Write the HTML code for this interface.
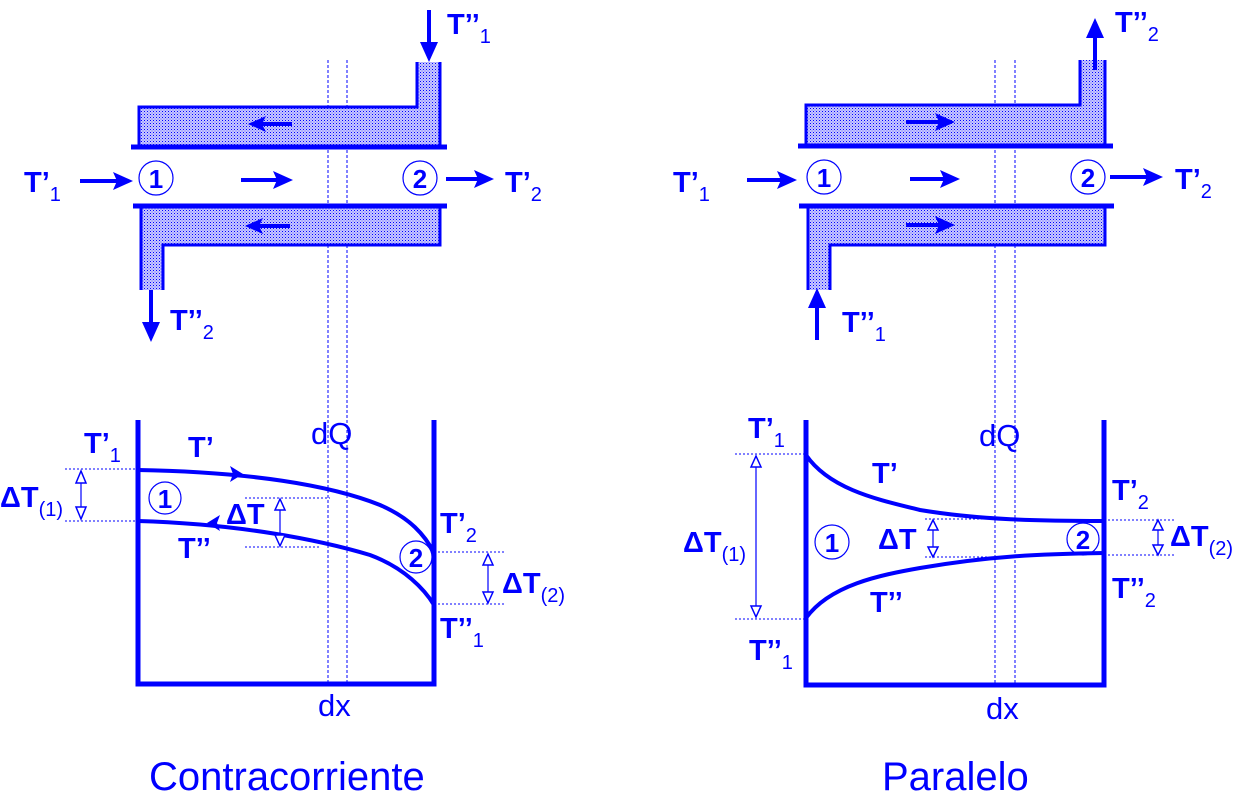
<!DOCTYPE html>
<html><head><meta charset="utf-8"><style>
html,body{margin:0;padding:0;background:#fff;}
svg{display:block;}
text{font-family:"Liberation Sans",Arial,sans-serif;fill:#0000ff;}
.b{font-weight:bold;font-size:29px;}
.s{font-weight:normal;font-size:20px;}
.n{font-weight:bold;font-size:26px;}
</style></head><body>
<svg width="1245" height="805" viewBox="0 0 1245 805" xmlns="http://www.w3.org/2000/svg">
<defs>
<pattern id="dots" width="3" height="3" patternUnits="userSpaceOnUse">
<rect width="3" height="3" fill="#c8c8ff"/><rect width="1" height="1" fill="#0000ff"/><rect x="1.5" y="1.5" width="1" height="1" fill="#6060ff"/>
</pattern>
</defs>
<g stroke="#0000ff" fill="none">
<g stroke-width="1" stroke-dasharray="3,2">
<line x1="328" y1="60" x2="328" y2="685"/><line x1="347" y1="60" x2="347" y2="685"/>
<line x1="995" y1="60" x2="995" y2="685"/><line x1="1015" y1="60" x2="1015" y2="685"/>
</g>
<!-- LEFT exchanger -->
<path d="M139,145 V107 H417 V62 H440 V145 Z" fill="url(#dots)" stroke="none"/>
<path d="M139,145 V107 H417 V62 M440,62 V145" stroke-width="3"/>
<line x1="131" y1="147" x2="447" y2="147" stroke-width="5"/>
<path d="M141,206 H440 V245 H163 V290 H141 Z" fill="url(#dots)" stroke="none"/>
<path d="M141,290 V206 M440,206 V245 H163 V290" stroke-width="3"/>
<line x1="133" y1="206" x2="447" y2="206" stroke-width="5"/>
<!-- RIGHT exchanger -->
<path d="M806,145 V105 H1080 V60 H1105 V145 Z" fill="url(#dots)" stroke="none"/>
<path d="M806,145 V105 H1080 V60 M1105,60 V145" stroke-width="3"/>
<line x1="798" y1="146" x2="1113" y2="146" stroke-width="5"/>
<path d="M808,206 H1105 V245 H830 V290 H808 Z" fill="url(#dots)" stroke="none"/>
<path d="M808,290 V206 M1105,206 V245 H830 V290" stroke-width="3"/>
<line x1="799" y1="206" x2="1114" y2="206" stroke-width="5"/>
<g stroke-width="4">
<line x1="429" y1="10" x2="429" y2="48"/>
<line x1="292" y1="124" x2="258" y2="124"/>
<line x1="80" y1="181" x2="120" y2="181"/>
<line x1="241" y1="180" x2="278" y2="180"/>
<line x1="446" y1="179" x2="480" y2="179"/>
<line x1="290" y1="226" x2="255" y2="226"/>
<line x1="151" y1="290" x2="151" y2="328"/>
<line x1="1095" y1="70" x2="1095" y2="30"/>
<line x1="906" y1="122" x2="940" y2="122"/>
<line x1="747" y1="180" x2="782" y2="180"/>
<line x1="910" y1="179" x2="945" y2="179"/>
<line x1="1110" y1="177" x2="1148" y2="177"/>
<line x1="906" y1="225" x2="940" y2="225"/>
<line x1="817" y1="340" x2="817" y2="302"/>
</g>
<path d="M138,420 V684 H434 V420" stroke-width="5"/>
<path d="M806,420 V685 H1104 V420" stroke-width="5"/>
<path d="M138,470 C250,472 330,485 380,505 C410,518 425,535 434,553" stroke-width="4"/>
<path d="M138,521 C240,524 320,540 370,555 C405,568 425,590 434,605" stroke-width="4"/>
<path d="M806,455 C830,490 880,500 920,510 C980,520 1040,521 1104,521" stroke-width="4"/>
<path d="M806,618 C830,585 880,575 920,568 C990,556 1040,554 1104,553" stroke-width="4"/>
<g stroke-width="1" stroke-dasharray="2,2">
<line x1="65" y1="469" x2="138" y2="469"/><line x1="65" y1="521" x2="138" y2="521"/>
<line x1="245" y1="498" x2="330" y2="498"/><line x1="245" y1="547" x2="320" y2="547"/>
<line x1="434" y1="552" x2="505" y2="552"/><line x1="434" y1="604" x2="505" y2="604"/>
<line x1="735" y1="454" x2="806" y2="454"/><line x1="735" y1="619" x2="806" y2="619"/>
<line x1="925" y1="519" x2="1000" y2="519"/><line x1="925" y1="557" x2="1000" y2="557"/>
<line x1="1104" y1="520" x2="1175" y2="520"/><line x1="1104" y1="555" x2="1175" y2="555"/>
</g>
<g stroke-width="1.2">
<line x1="81" y1="472" x2="81" y2="518"/>
<line x1="280" y1="500" x2="280" y2="545"/>
<line x1="488" y1="555" x2="488" y2="602"/>
<line x1="756" y1="457" x2="756" y2="616"/>
<line x1="933" y1="522" x2="933" y2="555"/>
<line x1="1158" y1="522" x2="1158" y2="553"/>
</g>
<g stroke-width="1.5" fill="#fff">
<polygon points="81,471 76,483 86,483"/><polygon points="81,519 76,507 86,507"/>
<polygon points="280,499 275,510 285,510"/><polygon points="280,546 275,535 285,535"/>
<polygon points="488,554 483,565 493,565"/><polygon points="488,603 483,592 493,592"/>
<polygon points="756,456 751,467 761,467"/><polygon points="756,617 751,606 761,606"/>
<polygon points="933,520 928,530 938,530"/><polygon points="933,557 928,547 938,547"/>
<polygon points="1158,520 1153,530 1163,530"/><polygon points="1158,555 1153,545 1163,545"/>
</g>
<g stroke-width="1.2">
<circle cx="156" cy="178" r="17"/><circle cx="420" cy="178" r="17"/>
<circle cx="824" cy="177" r="17"/><circle cx="1088" cy="177" r="17"/>
<circle cx="165" cy="498" r="16"/><circle cx="416" cy="557" r="16"/>
<circle cx="832" cy="542" r="17"/><circle cx="1083" cy="539" r="16"/>
</g>
</g>
<g fill="#0000ff">
<polygon points="429,62 420,42 438,42"/>
<polygon points="248,124 266,116 262,124 266,132"/>
<polygon points="133,181 113,172 117,181 113,190"/>
<polygon points="293,180 273,171 277,180 273,189"/>
<polygon points="494,179 474,170 478,179 474,188"/>
<polygon points="245,226 263,218 259,226 263,234"/>
<polygon points="151,342 142,322 160,322"/>
<polygon points="1095,18 1086,38 1104,38"/>
<polygon points="955,122 935,113 939,122 935,131"/>
<polygon points="797,180 777,171 781,180 777,189"/>
<polygon points="960,179 940,170 944,179 940,188"/>
<polygon points="1163,177 1143,168 1147,177 1143,186"/>
<polygon points="955,225 935,216 939,225 935,234"/>
<polygon points="817,288 808,308 826,308"/>
<polygon points="243,474 230,466 233,474 230,482"/>
<polygon points="207,523 220,515 217,523 220,531"/>
</g>
<text x="447" y="34" class="b">T’’<tspan class="s" dy="9">1</tspan></text>
<text x="24" y="192" class="b">T’<tspan class="s" dy="9">1</tspan></text>
<text x="505" y="192" class="b">T’<tspan class="s" dy="9">2</tspan></text>
<text x="170" y="330" class="b">T’’<tspan class="s" dy="9">2</tspan></text>
<text x="1115" y="32" class="b">T’’<tspan class="s" dy="9">2</tspan></text>
<text x="673" y="192" class="b">T’<tspan class="s" dy="9">1</tspan></text>
<text x="1175" y="189" class="b">T’<tspan class="s" dy="9">2</tspan></text>
<text x="842" y="332" class="b">T’’<tspan class="s" dy="9">1</tspan></text>
<g text-anchor="middle">
<text x="156" y="188" class="n">1</text>
<text x="420" y="188" class="n">2</text>
<text x="824" y="187" class="n">1</text>
<text x="1088" y="187" class="n">2</text>
<text x="165" y="508" class="n">1</text>
<text x="416" y="567" class="n">2</text>
<text x="832" y="552" class="n">1</text>
<text x="1083" y="549" class="n">2</text>
</g>
<text x="84" y="453" class="b">T’<tspan class="s" dy="9">1</tspan></text>
<text x="188" y="457" class="b">T’</text>
<text x="0" y="507" class="b">ΔT<tspan class="s" dy="9">(1)</tspan></text>
<text x="226" y="524" class="b">ΔT</text>
<text x="178" y="558" class="b">T’’</text>
<text x="440" y="533" class="b">T’<tspan class="s" dy="9">2</tspan></text>
<text x="502" y="593" class="b">ΔT<tspan class="s" dy="9">(2)</tspan></text>
<text x="440" y="638" class="b">T’’<tspan class="s" dy="9">1</tspan></text>
<text x="311" y="444" style="font-size:31px">dQ</text>
<text x="318" y="716" style="font-size:31px">dx</text>
<text x="748" y="438" class="b">T’<tspan class="s" dy="9">1</tspan></text>
<text x="872" y="483" class="b">T’</text>
<text x="683" y="552" class="b">ΔT<tspan class="s" dy="9">(1)</tspan></text>
<text x="878" y="549" class="b">ΔT</text>
<text x="870" y="612" class="b">T’’</text>
<text x="1112" y="500" class="b">T’<tspan class="s" dy="9">2</tspan></text>
<text x="1170" y="546" class="b">ΔT<tspan class="s" dy="9">(2)</tspan></text>
<text x="1112" y="598" class="b">T’’<tspan class="s" dy="9">2</tspan></text>
<text x="749" y="660" class="b">T’’<tspan class="s" dy="9">1</tspan></text>
<text x="979" y="446" style="font-size:31px">dQ</text>
<text x="986" y="719" style="font-size:31px">dx</text>
<text x="149" y="790" style="font-size:40px">Contracorriente</text>
<text x="882" y="790" style="font-size:40px">Paralelo</text>
</svg>
</body></html>
